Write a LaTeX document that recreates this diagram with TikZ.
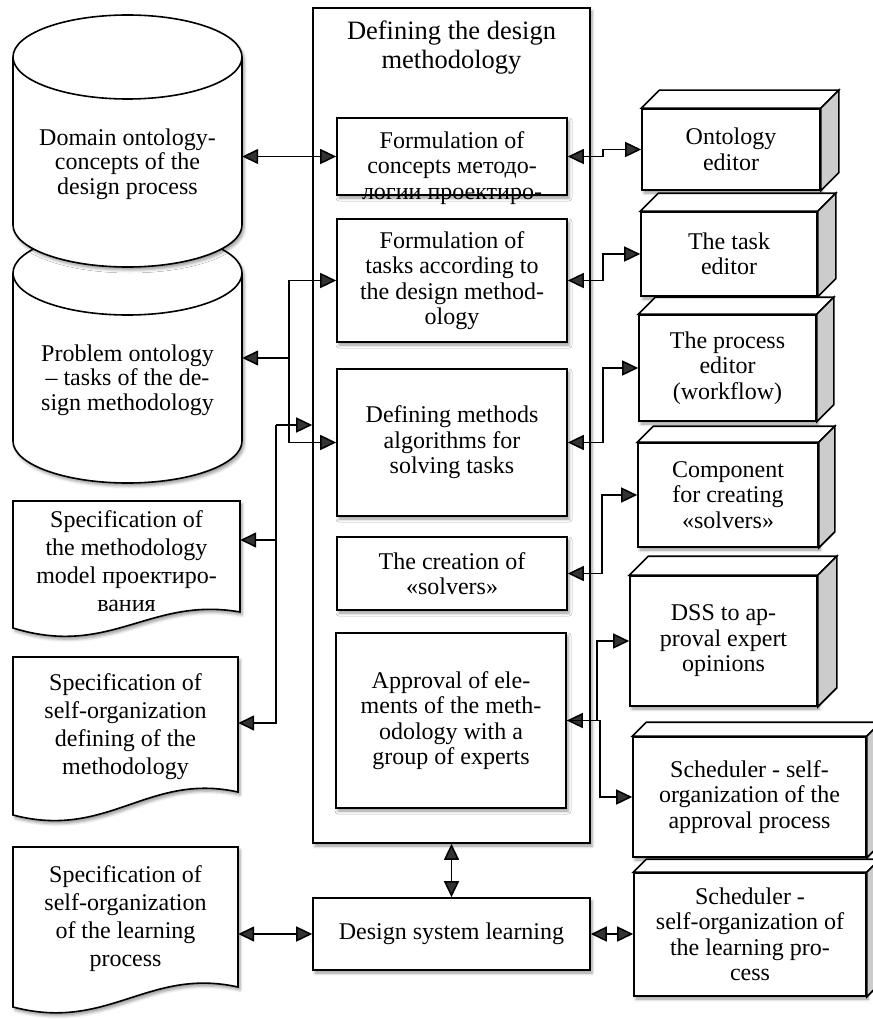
\documentclass[tikz,border=0pt]{standalone}
\usepackage{fontspec}
\setmainfont{Liberation Serif}
\usetikzlibrary{arrows.meta,calc,positioning,shadows.blur}

\tikzset{
  softshadow/.style={blur shadow={shadow xshift=2pt,shadow yshift=-3pt,shadow blur radius=3pt,shadow opacity=40}},
  box/.style={draw,line width=1.6pt,fill=white,softshadow,inner sep=0pt,align=center,
    font=\fontsize{24}{25.5}\selectfont},
  txt/.style={inner sep=0pt,align=center,font=\fontsize{24}{25.5}\selectfont},
  doctxt/.style={txt,font=\fontsize{24}{28}\selectfont},
  cyltxt/.style={txt,font=\fontsize{24}{24.5}\selectfont},
  cylpath/.style={draw,line width=1.6pt,fill=white,softshadow},
  docpath/.style={draw,line width=1.6pt,fill=white,softshadow},
  topface/.style={draw,line width=1.6pt,fill=white},
  sideface/.style={draw,line width=1.6pt,fill=black!20},
  arr/.style={line width=1.5pt,-{Triangle[length=16pt,width=15pt]}},
  dbl/.style={line width=1.5pt,{Triangle[length=16pt,width=15pt]}-{Triangle[length=16pt,width=15pt]}},
}

\begin{document}
\begin{tikzpicture}[x=1pt,y=-1pt]
\useasboundingbox (0,0) rectangle (872,1019);

% methodology block
\node[box,minimum width=277pt,minimum height=835pt] (meth) at (451.5,425.5) {};
\node[txt,font=\fontsize{26.5}{29}\selectfont] (methtitle) at (451.5,47.5) {Defining the design\\methodology};

\node[box,minimum width=230pt,minimum height=77pt] (concept) at (452,156.5) {};
\node[txt] (concepttxt) at (452,168) {Formulation of\\concepts методо-\\логии проектиро-};
\node[box,minimum width=230pt,minimum height=123pt] (tasks) at (452,280.5) {Formulation of\\tasks according to\\the design method-\\ology};
\node[box,minimum width=230pt,minimum height=147pt] (algo) at (452,442.5) {Defining methods\\algorithms for\\solving tasks};
\node[box,minimum width=230pt,minimum height=73pt] (solv) at (452,573.5) {The creation of\\«solvers»};
\node[box,minimum width=230pt,minimum height=175pt] (appr) at (451,720.5) {Approval of ele-\\ments of the meth-\\odology with a\\group of experts};

\node[box,minimum width=277pt,minimum height=72pt] (learn) at (451.5,934) {Design system learning};

% tools on the right
\node[box,minimum width=178pt,minimum height=81pt] (onto) at (731,149.5) {Ontology\\editor};
\node[box,minimum width=176pt,minimum height=84pt] (tasked) at (729,254) {The task\\editor};
\node[box,minimum width=177pt,minimum height=106pt] (proced) at (727.5,368) {The process\\editor\\(workflow)};
\node[box,minimum width=180pt,minimum height=104pt] (comp) at (728,495) {Component\\for creating\\«solvers»};
\node[box,minimum width=187pt,minimum height=130pt] (dss) at (723.5,641) {DSS to ap-\\proval expert\\opinions};
\node[box,minimum width=233pt,minimum height=120pt] (plan) at (749.5,797) {Scheduler - self-\\organization of the\\approval process};
\node[box,minimum width=232pt,minimum height=123pt] (plan2) at (750,934.5) {Scheduler -\\self-organization of\\the learning pro-\\cess};
\foreach \cube/\off in {onto/18,tasked/18,proced/17,comp/16,dss/19,plan/14,plan2/13}{
  \draw[topface] (\cube.north west) -- ++(\off,-\off) -- ($(\cube.north east)+(\off,-\off)$) -- (\cube.north east) -- cycle;
  \draw[sideface] (\cube.north east) -- ++(\off,-\off) -- ($(\cube.south east)+(\off,-\off)$) -- (\cube.south east) -- cycle;
}

% ontologies
\path[cylpath] (13,273) -- (13,441) arc[start angle=180,end angle=360,x radius=114.5pt,y radius=42pt]
  -- (242,273) arc[start angle=0,end angle=180,x radius=114.5pt,y radius=42pt] -- cycle;
\draw[line width=1.6pt] (13,273) arc[start angle=180,end angle=360,x radius=114.5pt,y radius=42pt];
\node[cyltxt,minimum width=229pt] (prob) at (127.5,380) {Problem ontology\\-- tasks of the de-\\sign methodology};

\path[cylpath] (13,57) -- (13,225) arc[start angle=180,end angle=360,x radius=114.5pt,y radius=42pt]
  -- (242,57) arc[start angle=0,end angle=180,x radius=114.5pt,y radius=42pt] -- cycle;
\draw[line width=1.6pt] (13,57) arc[start angle=180,end angle=360,x radius=114.5pt,y radius=42pt];
\node[cyltxt,minimum width=229pt] (dom) at (127.5,164) {Domain ontology-\\concepts of the\\design process};

% specifications
\path[docpath] (13,501) -- (240,501) -- (240,612) .. controls (150,596) and (110,658) .. (13,628) -- cycle;
\node[doctxt,minimum width=227pt] (spec1) at (126.5,561) {Specification of\\the methodology\\model проектиро-\\вания};
\path[docpath] (13,657) -- (238,657) -- (238,792) .. controls (148,772) and (108,840) .. (13,815) -- cycle;
\node[doctxt,minimum width=225pt] (spec2) at (125.5,726.5) {Specification of\\self-organization\\defining of the\\methodology};
\path[docpath] (13,847) -- (238,847) -- (238,987) .. controls (148,967) and (108,1032) .. (13,1007) -- cycle;
\node[doctxt,minimum width=225pt] (spec3) at (125.5,918.5) {Specification of\\self-organization\\of the learning\\process};

% connectors, right
\coordinate (rj) at (603,0);
\coordinate (rk) at (602,0);
\coordinate (ra) at (597,0);
\coordinate (rb) at (600,0);
\draw[dbl] (concept.east) -| (rj |- onto.west) -- (onto.west);
\draw[dbl] (tasks.east) -| (rj |- tasked.west) -- (tasked.west);
\draw[dbl] (algo.east) -| (rj |- proced.west) -- (proced.west);
\draw[dbl] (solv.east) -| (rk |- comp.west) -- (comp.west);
\draw[dbl] (appr.east) -| (ra |- dss.west) -- (dss.west);
\draw[arr] (appr.east) -| (rb |- plan.west) -- (plan.west);

% connectors, bottom
\draw[dbl] (meth.south) -- (learn.north);
\draw[dbl] (learn.east) -- (learn.east -| plan2.west);
\draw[dbl] (spec3.east |- learn.west) -- (learn.west);

% connectors, left
\draw[dbl] (dom.east |- concept.west) -- (concept.west);
\coordinate (lj) at (289,358);
\draw[arr] (lj) -- (lj -| prob.east);
\draw[arr] (lj) |- (tasks.west);
\draw[arr] (lj) |- (algo.west);
\coordinate (lk) at (276,425);
\draw[arr] (lk) -- (lk -| meth.west);
\draw[arr] (lk) |- ($(spec1.east)+(0,-21)$);
\draw[arr] (lk) |- ($(spec2.east)+(0,-3.5)$);
\end{tikzpicture}
\end{document}
